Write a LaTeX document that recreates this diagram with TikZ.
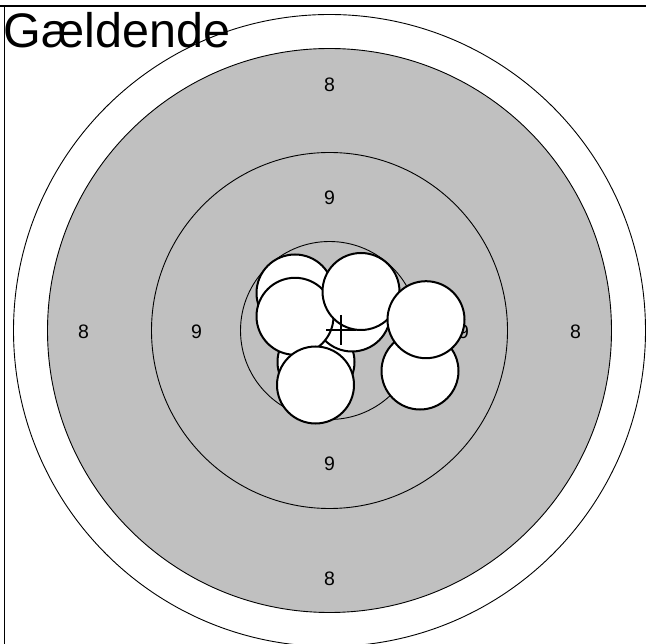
\documentclass[tikz,border=0pt]{standalone}
\usepackage{fontspec}
\setmainfont{Liberation Sans}
\definecolor{ringgray}{HTML}{C0C0C0}
\tikzset{
  ring/.style={circle, draw=black, line width=0.9pt, inner sep=0pt, outer sep=0pt},
  hole/.style={circle, draw=black, fill=white, line width=2pt, minimum size=77pt, inner sep=0pt, outer sep=0pt},
  score/.style={font=\fontsize{19.5}{19.5}\selectfont, inner sep=0pt, anchor=center},
  frameline/.style={line width=1.4pt, black},
  cross/.style={line width=1.3pt, black}
}
\begin{document}
\begin{tikzpicture}[x=1pt, y=-1pt]
\useasboundingbox (0,0) rectangle (646,644);
\clip (0,0) rectangle (646,644);
% target rings
\node[ring, minimum size=632pt] (outer) at (329.5,330.5) {};
\node[ring, fill=ringgray, minimum size=564pt] (black8) at (329.5,330.5) {};
\node[ring, minimum size=356pt] (ring9) at (329.5,330.5) {};
\node[ring, minimum size=178pt] (ring10) at (329.5,330.5) {};
% score labels
\node[score] (e8t) at (329.5,84.5) {8};
\node[score] (e8b) at (329.5,578.5) {8};
\node[score] (e8l) at (83.5,332) {8};
\node[score] (e8r) at (575.5,332) {8};
\node[score] (n9t) at (329.5,197.5) {9};
\node[score] (n9b) at (329.5,464) {9};
\node[score] (n9l) at (196.5,332) {9};
\node[score] (n9r) at (463.5,332) {9};
% shot holes, back to front
\node[hole] (hB) at (323,311) {};
\node[hole] (hI) at (316,362) {};
\node[hole] (hC) at (352,313) {};
\node[hole] (hA) at (295,293) {};
\node[hole] (hG) at (420,371) {};
\node[hole] (hE) at (295,316.3) {};
\node[hole] (hH) at (315.5,385) {};
\node[hole] (hD) at (361,291.5) {};
\node[hole] (hF) at (426,319.7) {};
% crosshair
\coordinate (cl) at (326,330);
\coordinate (cr) at (356,330);
\coordinate (ct) at (341,315);
\coordinate (cb) at (341,345.5);
\draw[cross] (cl) -- (cr);
\draw[cross] (ct) -- (cb);
% frame lines
\coordinate (tl) at (0,6);
\coordinate (tr) at (646,6);
\coordinate (lt) at (4.7,6);
\coordinate (lb) at (4.7,644);
\draw[frameline] (tl) -- (tr);
\draw[frameline] (lt) -- (lb);
% title
\node[anchor=base west, inner sep=0pt, font=\fontsize{48.5}{48.5}\selectfont] (title) at (3.6,48) {Gældende};
\end{tikzpicture}
\end{document}
